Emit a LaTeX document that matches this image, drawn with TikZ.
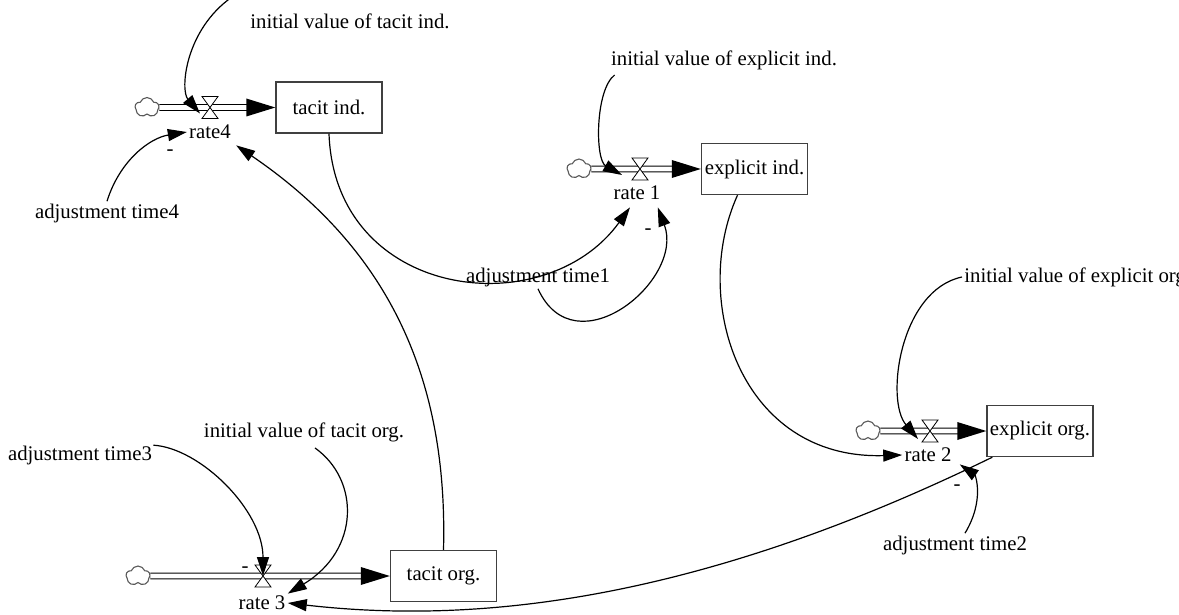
\documentclass[tikz,border=0pt]{standalone}
\usepackage{fontspec}
\setmainfont{Liberation Serif}
\usetikzlibrary{arrows.meta,shapes.symbols,calc}

\tikzset{
  stock/.style={draw=black!75, line width=0.7pt, minimum width=53pt, minimum height=25.5pt, inner sep=1pt},
  lbl/.style={inner sep=1pt},
  source/.style={cloud, cloud puffs=5, cloud puff arc=140, aspect=1.2, draw=black!65, line width=0.55pt, minimum width=12pt, minimum height=10pt, inner sep=0pt},
  pipe/.style={draw=black, line width=0.5pt, double=white, double distance=2.4pt},
  infl/.style={line width=0.6pt, -{Triangle[length=9.5pt,width=6pt]}},
}
\newcommand{\valve}[1]{\draw[fill=white, line width=0.4pt] ($(#1)+(-8,-11)$) -- ($(#1)+(8,-11)$) -- ($(#1)+(-8,11)$) -- ($(#1)+(8,11)$) -- cycle;}
\newcommand{\pipehead}[1]{\fill (#1) -- ++(-29,-9) -- ++(0,18) -- cycle;}

\begin{document}
\begin{tikzpicture}[x=0.5pt, y=-0.5pt, font=\fontsize{10.4}{12.5}\selectfont]
  \useasboundingbox[fill=white] (0,0) rectangle (1179,615);

  % stocks
  \node[stock] (tacitInd) at (329,107.5) {tacit ind.};
  \node[stock] (explInd) at (754.5,169) {explicit ind.};
  \node[stock] (explOrg) at (1040,431) {explicit org.};
  \node[stock] (tacitOrg) at (443.5,576) {tacit org.};

  % sources
  \node[source] (cloudTI) at (147,107.5) {};
  \node[source] (cloudEI) at (579,169) {};
  \node[source] (cloudEO) at (868,431) {};
  \node[source] (cloudTO) at (138,576) {};

  \coordinate (vTI) at (210,107.5);
  \coordinate (vEI) at (640,169);
  \coordinate (vEO) at (930,431);
  \coordinate (vTO) at (263,576);

  % rates and constants
  \node[lbl] (rate4) at (210,132) {rate4};
  \node[lbl] (rate1) at (637,193) {rate 1};
  \node[lbl] (rate2) at (928,455) {rate 2};
  \node[lbl] (rate3) at (262,603) {rate 3};
  \node[lbl] (initTI) at (350,21) {initial value of tacit ind.};
  \node[lbl] (initEI) at (724,60) {initial value of explicit ind.};
  \node[lbl, anchor=west] (initEO) at (962,277) {initial value of explicit org.};
  \node[lbl] (initTO) at (304,432) {initial value of tacit org.};
  \node[lbl] (adj1) at (538,277) {adjustment time1};
  \node[lbl] (adj2) at (955,545) {adjustment time2};
  \node[lbl] (adj3) at (80,455) {adjustment time3};
  \node[lbl] (adj4) at (107,213) {adjustment time4};
  \node[lbl] (sign4) at (170,153) {-};
  \node[lbl] (sign1) at (648,232) {-};
  \node[lbl] (sign2) at (957,488) {-};
  \node[lbl] (sign3) at (245,570) {-};

  % flows
  \draw[pipe] (cloudTI.east) -- ($(tacitInd.west)+(-27,0)$);
  \pipehead{tacitInd.west}
  \valve{vTI}
  \draw[pipe] (cloudEI.east) -- ($(explInd.west)+(-27,0)$);
  \pipehead{explInd.west}
  \valve{vEI}
  \draw[pipe] (cloudEO.east) -- ($(explOrg.west)+(-27,0)$);
  \pipehead{explOrg.west}
  \valve{vEO}
  \draw[pipe] (cloudTO.east) -- ($(tacitOrg.west)+(-27,0)$);
  \pipehead{tacitOrg.west}
  \valve{vTO}

  % links
  \coordinate (topTI) at (232,-3);
  \draw[infl] (topTI) .. controls (185,30) and (180,90) .. ($(vTI)+(-10,6)$);
  \draw[infl] (adj4.north) .. controls (120,160) and (150,138) .. (rate4.west);
  \draw[infl] (tacitOrg.north) .. controls (448,380) and (390,250) .. ($(rate4.south east)+(3,4)$);
  \draw[infl] (tacitInd.south) .. controls (335,300) and (545,325) .. ($(rate1.south)+(-7,5)$);
  \draw[infl] (adj1.south) .. controls (575,370) and (685,280) .. ($(rate1.south east)+(-5,5)$);
  \draw[infl] ($(initEI.south west)+(6,3)$) .. controls (595,90) and (595,160) .. ($(vEI)+(-18,6)$);
  \draw[infl] ($(explInd.south)+(-17,0)$) .. controls (690,300) and (740,460) .. (rate2.west);
  \draw[infl] (initEO.west) .. controls (900,290) and (885,400) .. ($(vEO)+(-12,8)$);
  \draw[infl] ($(adj2.north)+(10,0)$) .. controls (985,500) and (975,475) .. ($(rate2.south east)+(6,0)$);
  \draw[infl] ($(explOrg.south west)+(6,0)$) .. controls (700,600) and (480,625) .. (rate3.east);
  \draw[infl] ($(adj3.north east)+(-1,2)$) .. controls (200,448) and (263,510) .. (vTO);
  \draw[infl] ($(initTO.south)+(11,4)$) .. controls (360,480) and (360,550) .. (rate3.north east);
\end{tikzpicture}
\end{document}
